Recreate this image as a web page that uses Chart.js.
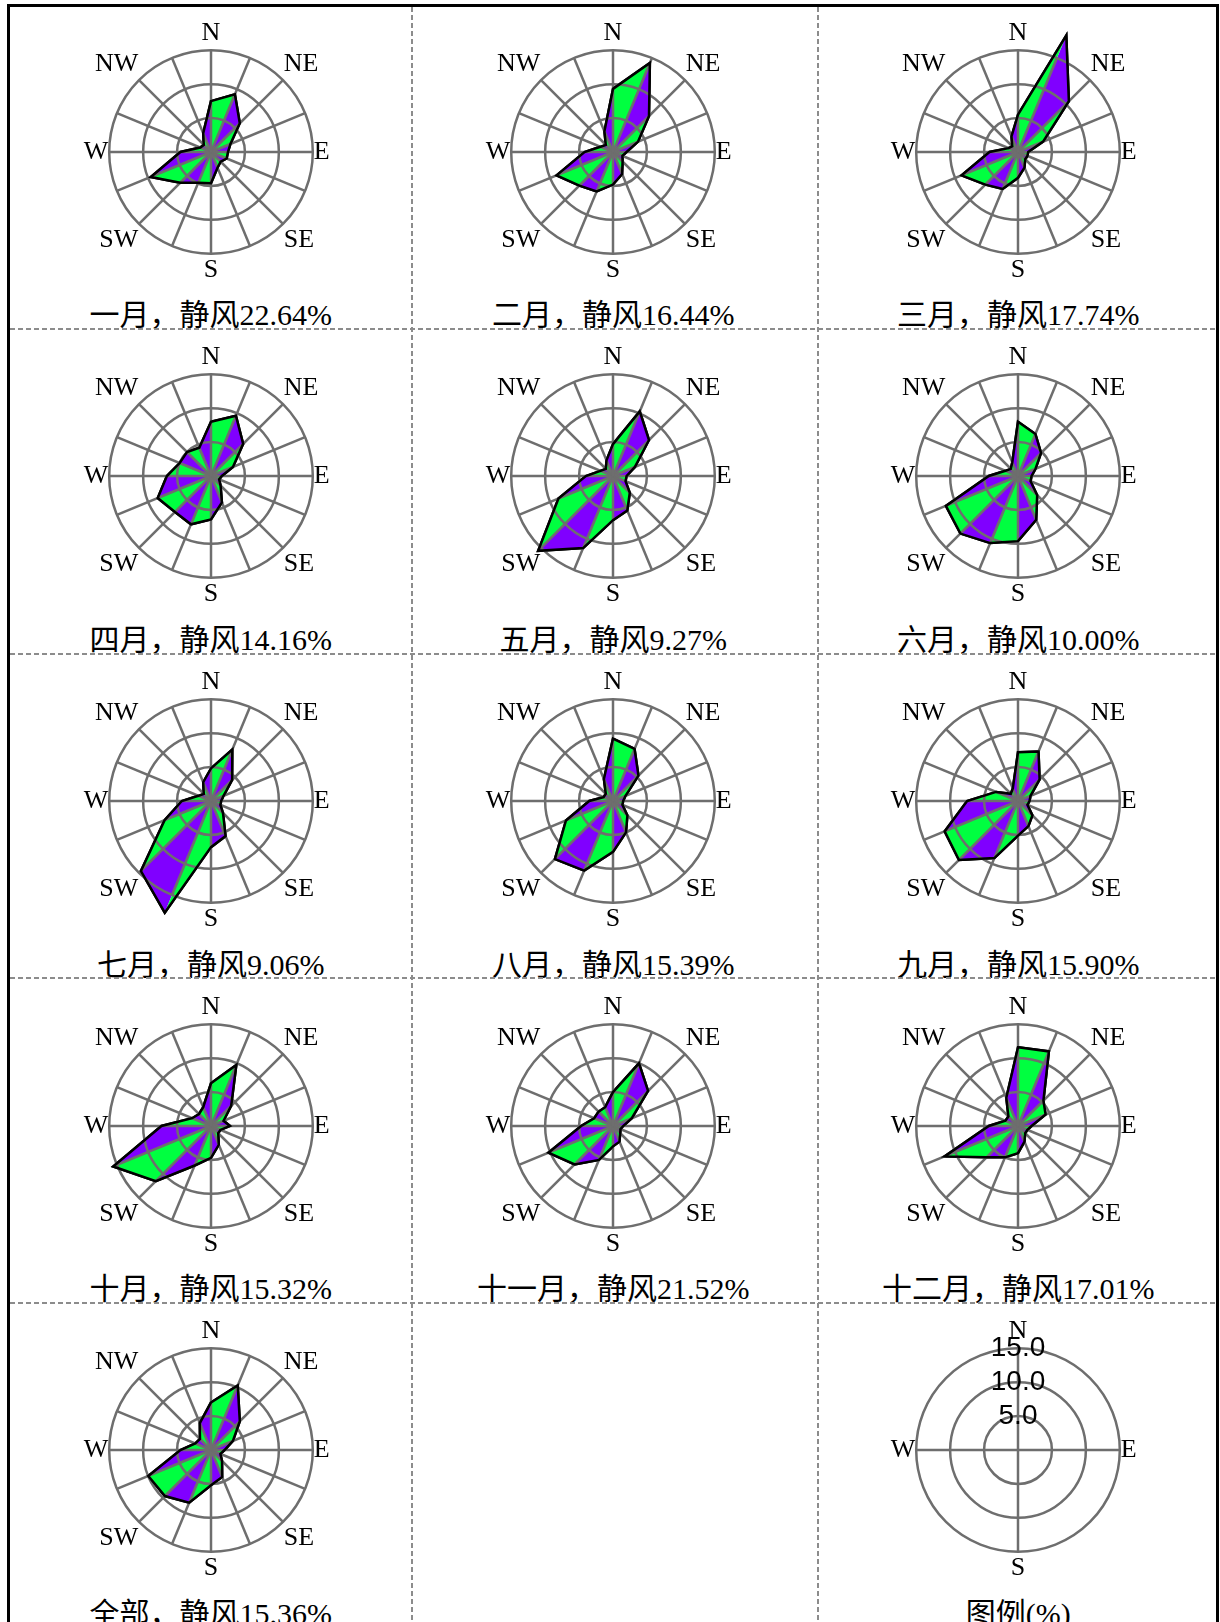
<!DOCTYPE html>
<html>
<head>
<meta charset="utf-8">
<script src="https://cdn.jsdelivr.net/npm/chart.js@4.4.1/dist/chart.umd.min.js"></script>
<style>
html, body { margin: 0; padding: 0; background: #ffffff; }
body { width: 1220px; height: 1622px; position: relative; overflow: hidden; }
.solid { position: absolute; background: #000000; z-index: 6; }
.hdash { position: absolute; height: 2px; z-index: 5;
  background: repeating-linear-gradient(90deg, #8c8c8c 0 5px, transparent 5px 8px); }
.vdash { position: absolute; width: 2px; z-index: 5;
  background: repeating-linear-gradient(180deg, #8c8c8c 0 5px, transparent 5px 8px); }
.cell { position: absolute; z-index: 2; }
.cell canvas { display: block; }
.title { position: absolute; white-space: nowrap; transform: translateX(-50%);
  font-size: 30px; line-height: 30px; color: #000;
  font-family: "Liberation Serif", "Noto Sans CJK SC", serif; z-index: 3; }
</style>
</head>
<body>
<script>
// ---------------- data ----------------
const directions = ['N','NNE','NE','ENE','E','ESE','SE','SSE','S','SSW','SW','WSW','W','WNW','NW','NNW'];
const legendAxes = ['N','E','S','W'];
const ringValues = [5, 10, 15];           // % rings (legend tick labels)

const panelNames = ['一月','二月','三月','四月','五月','六月','七月','八月','九月','十月','十一月','十二月','全部'];
const calmPercent = [22.64, 16.44, 17.74, 14.16, 9.27, 10.00, 9.06, 15.39, 15.90, 15.32, 21.52, 17.01, 15.36];

// wind direction frequency (%), order N, NNE, NE ... NNW
const janFreq = [7.5, 9.2, 6.0, 3.1, 2.5, 2.5, 2.0, 2.5, 4.6, 4.9, 6.4, 9.6, 4.5, 1.7, 1.5, 3.0];
const febFreq = [9.3, 14.2, 7.5, 4.0, 2.0, 1.5, 2.0, 3.5, 4.8, 6.3, 7.0, 9.0, 4.2, 2.0, 1.5, 3.3];
const marFreq = [5.5, 18.6, 10.6, 4.0, 1.5, 1.5, 1.5, 2.5, 3.8, 5.9, 6.8, 9.0, 4.2, 1.5, 1.2, 2.5];
const aprFreq = [8.0, 9.6, 6.7, 3.5, 1.6, 1.3, 2.0, 4.2, 6.4, 7.7, 7.5, 8.5, 6.5, 5.0, 5.0, 4.5];
const mayFreq = [4.7, 10.3, 7.5, 3.5, 2.0, 2.0, 3.5, 5.5, 6.5, 11.5, 15.6, 8.7, 4.0, 2.0, 1.5, 2.5];
const junFreq = [8.0, 6.7, 4.8, 2.8, 2.0, 2.0, 4.0, 7.0, 9.6, 10.7, 12.0, 11.5, 4.3, 2.0, 1.5, 2.2];
const julFreq = [4.8, 8.2, 4.4, 2.0, 1.5, 1.5, 2.5, 5.6, 6.8, 17.8, 14.6, 7.4, 4.3, 2.0, 1.5, 3.0];
const augFreq = [9.2, 8.3, 5.3, 2.0, 1.5, 1.5, 3.0, 5.0, 7.5, 11.1, 12.1, 7.5, 3.5, 1.5, 1.5, 3.5];
const sepFreq = [7.2, 7.9, 4.5, 2.0, 1.7, 1.5, 3.0, 4.0, 5.1, 9.1, 12.3, 11.7, 7.5, 3.5, 1.5, 2.0];
const octFreq = [6.3, 9.75, 4.2, 2.0, 2.8, 1.5, 1.5, 3.0, 4.7, 6.3, 11.5, 15.6, 7.3, 3.0, 2.5, 3.0];
const novFreq = [5.0, 10.0, 7.3, 3.0, 1.5, 1.2, 1.5, 2.5, 3.0, 5.4, 8.0, 10.3, 4.7, 3.0, 3.0, 3.0];
const decFreq = [11.6, 11.9, 5.3, 4.4, 2.0, 1.5, 1.5, 2.5, 4.0, 5.0, 6.5, 11.7, 4.3, 2.0, 2.0, 4.5];
const allFreq = [7.0, 10.3, 6.0, 3.5, 2.0, 1.5, 2.3, 4.3, 5.2, 8.4, 9.6, 10.0, 4.5, 2.5, 2.3, 4.3];

const panelSeries = [janFreq, febFreq, marFreq, aprFreq, mayFreq, junFreq, julFreq,
                     augFreq, sepFreq, octFreq, novFreq, decFreq, allFreq];
const legendTitle = '图例(%)';

// ---------------- style / layout ----------------
const GREEN = '#00ff40', PURPLE = '#8000ff', GRID = '#6e6e6e';
const TARGET_R = 101.7;
const COL_X = [210.7, 613.3, 1018.3];
const ROW_TOP = [0, 1, 2, 3, 4].map(r => 4.4 + 324.6 * r);
const CENTER_DY = 147.3;
const TITLE_DY = 296;

function addDiv(cls, l, t, w, h) {
  const d = document.createElement('div');
  d.className = cls;
  d.style.left = l + 'px'; d.style.top = t + 'px';
  if (w != null) d.style.width = w + 'px';
  if (h != null) d.style.height = h + 'px';
  document.body.appendChild(d);
}
addDiv('solid', 7, 4, 1212, 3);
addDiv('solid', 7, 4, 3, 1618);
addDiv('solid', 1216, 4, 3, 1618);
[1, 2, 3, 4].forEach(r => addDiv('hdash', 10, Math.round(ROW_TOP[r] - 1), 1206, null));
[411, 817].forEach(x => addDiv('vdash', x, 7, null, 1615));

function addTitle(text, cx, rowTop) {
  const t = document.createElement('div');
  t.className = 'title';
  t.textContent = text;
  t.style.left = cx + 'px';
  t.style.top = (rowTop + TITLE_DY) + 'px';
  document.body.appendChild(t);
}

// draw the outline dataset again after the grid so it sits on top
const outlineOnTop = {
  id: 'outlineOnTop',
  afterDraw(chart) {
    const n = chart.data.datasets.length;
    if (!n) return;
    const meta = chart.getDatasetMeta(n - 1);
    if (meta && meta.controller) {
      chart.ctx.save();
      meta.controller.draw();
      chart.ctx.restore();
    }
  }
};

function placeChart(chart, wrap, cx, cy) {
  for (let it = 0; it < 4; it++) {
    const d = TARGET_R - chart.scales.r.drawingArea;
    if (Math.abs(d) < 0.5) break;
    const w = Math.round(chart.width + 2 * d);
    chart.resize(w, w);
  }
  const s = chart.scales.r;
  wrap.style.left = (cx - s.xCenter) + 'px';
  wrap.style.top = (cy - s.yCenter) + 'px';
}

function newCanvas(size) {
  const wrap = document.createElement('div');
  wrap.className = 'cell';
  const c = document.createElement('canvas');
  c.width = size; c.height = size;
  wrap.appendChild(c);
  document.body.appendChild(wrap);
  return { wrap, c };
}

const LABEL_FONT = { family: 'Liberation Serif', size: 26 };

function makeRose(values, cx, cy) {
  const { wrap, c } = newCanvas(272);
  const n = directions.length;
  const datasets = [];
  for (let k = 0; k < n; k++) {
    datasets.push({
      data: values.map((v, i) => (i === k || i === (k + 1) % n) ? v : 0),
      fill: true,
      backgroundColor: k % 2 === 0 ? GREEN : PURPLE,
      borderWidth: 0,
      pointRadius: 0,
      clip: false
    });
  }
  datasets.push({ data: values.slice(), fill: false, borderColor: '#000000', borderWidth: 2.5,
                  pointRadius: 0, clip: false });
  const chart = new Chart(c, {
    type: 'radar',
    data: { labels: directions, datasets },
    plugins: [outlineOnTop],
    options: {
      responsive: false, animation: false, events: [],
      layout: { padding: 0 },
      elements: { line: { tension: 0 }, point: { radius: 0 } },
      plugins: { legend: { display: false }, tooltip: { enabled: false } },
      scales: {
        r: {
          min: 0, max: ringValues[ringValues.length - 1],
          ticks: { display: false, stepSize: ringValues[0] },
          grid: { circular: true, color: GRID, lineWidth: 2.5, z: 1 },
          angleLines: { display: true, color: GRID, lineWidth: 2.5 },
          pointLabels: {
            callback: (lab, i) => (i % 2 === 0 ? lab : ''),
            font: LABEL_FONT,
            color: '#000000', padding: 1
          }
        }
      }
    }
  });
  placeChart(chart, wrap, cx, cy);
}

function makeLegend(cx, cy) {
  const { wrap, c } = newCanvas(300);
  const chart = new Chart(c, {
    type: 'radar',
    data: { labels: legendAxes, datasets: [] },
    options: {
      responsive: false, animation: false, events: [],
      layout: { padding: 0 },
      plugins: { legend: { display: false }, tooltip: { enabled: false } },
      scales: {
        r: {
          min: 0, max: ringValues[ringValues.length - 1],
          ticks: {
            display: true, stepSize: ringValues[0], showLabelBackdrop: false,
            backdropPadding: 0, color: '#000000',
            font: { family: '"Liberation Sans Narrow", "Liberation Sans", sans-serif', size: 28 },
            callback: v => Number(v).toFixed(1)
          },
          grid: { circular: true, color: GRID, lineWidth: 2.5 },
          angleLines: { display: true, color: GRID, lineWidth: 2.5 },
          pointLabels: {
            font: LABEL_FONT,
            color: '#000000', padding: -13
          }
        }
      }
    }
  });
  placeChart(chart, wrap, cx, cy);
}

panelSeries.forEach((vals, idx) => {
  const row = Math.floor(idx / 3), col = idx % 3;
  const cx = COL_X[col], top = ROW_TOP[row];
  makeRose(vals, cx, top + CENTER_DY);
  addTitle(panelNames[idx] + '，静风' + calmPercent[idx].toFixed(2) + '%', cx, top);
});
makeLegend(COL_X[2], ROW_TOP[4] + CENTER_DY);
addTitle(legendTitle, COL_X[2], ROW_TOP[4]);
</script>
</body>
</html>
